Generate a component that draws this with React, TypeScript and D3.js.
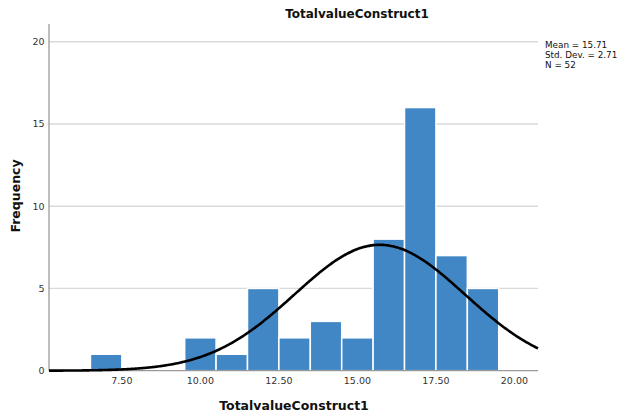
import React from "react";
import * as d3 from "d3";

const binCenters = [7, 8, 9, 10, 11, 12, 13, 14, 15, 16, 17, 18, 19];
const frequencies = [1, 0, 0, 2, 1, 5, 2, 3, 2, 8, 16, 7, 5];
const yTicks = [0, 5, 10, 15, 20];
const xTicks = [7.5, 10, 12.5, 15, 17.5, 20];
const statLines = ["Mean = 15.71", "Std. Dev. = 2.71", "N = 52"];
const mean = 15.71;
const sd = 2.71;
const n = 52;
const binWidth = 1;

const W = 619;
const H = 413;
const left = 49;
const right = 538;
const top = 24;
const bottom = 370.7;

export default function App() {
  const x = d3.scaleLinear().domain([5.18, 20.75]).range([left, right]);
  const y = d3.scaleLinear().domain([0, 21.08]).range([bottom, top]);
  const pdf = (v: number) =>
    (n * binWidth) / (sd * Math.sqrt(2 * Math.PI)) * Math.exp(-0.5 * ((v - mean) / sd) ** 2);
  const curvePts = d3.range(0, 301).map((i) => {
    const v = 5.18 + (i / 300) * (20.75 - 5.18);
    return [v, pdf(v)] as [number, number];
  });
  const line = d3
    .line<[number, number]>()
    .x((d) => x(d[0]))
    .y((d) => y(d[1]))
    .curve(d3.curveBasis);
  const font = "'DejaVu Sans', Verdana, sans-serif";
  return (
    <svg width={W} height={H} style={{ position: "absolute", left: 0, top: 0 }}>
      <rect width={W} height={H} fill="#fff" />
      <text x={357} y={18} textAnchor="middle" fontFamily={font} fontWeight="bold" fontSize={12} fill="#111">
        TotalvalueConstruct1
      </text>
      {yTicks
        .filter((t) => t > 0)
        .map((t) => (
          <line key={t} x1={left} x2={right} y1={y(t)} y2={y(t)} stroke="#d9d9d9" strokeWidth={1.3} />
        ))}
      {binCenters.map((c, i) =>
        frequencies[i] > 0 ? (
          <rect
            key={c}
            x={x(c - binWidth / 2)}
            y={y(frequencies[i])}
            width={x(c + binWidth / 2) - x(c - binWidth / 2)}
            height={y(0) - y(frequencies[i])}
            fill="#4287c5"
            stroke="#ffffff"
            strokeWidth={1.5}
          />
        ) : null
      )}
      <line x1={left} x2={left} y1={top} y2={bottom} stroke="#9a9a9a" strokeWidth={1.3} />
      <line x1={left} x2={right} y1={bottom} y2={bottom} stroke="#9a9a9a" strokeWidth={1.3} />
      <path d={line(curvePts) || ""} fill="none" stroke="#000" strokeWidth={2.6} />
      {yTicks.map((t) => (
        <text key={t} x={44.5} y={y(t) + 3.5} textAnchor="end" fontFamily={font} fontSize={9.5} fill="#333">
          {t}
        </text>
      ))}
      {xTicks.map((t) => (
        <text key={t} x={x(t)} y={384} textAnchor="middle" fontFamily={font} fontSize={9.5} fill="#333">
          {t.toFixed(2)}
        </text>
      ))}
      <text x={294} y={410} textAnchor="middle" fontFamily={font} fontWeight="bold" fontSize={12.5} fill="#111">
        TotalvalueConstruct1
      </text>
      <text
        transform={`translate(20,196) rotate(-90)`}
        textAnchor="middle"
        fontFamily={font}
        fontWeight="bold"
        fontSize={12.5}
        fill="#111"
      >
        Frequency
      </text>
      {statLines.map((s, i) => (
        <text key={s} x={545} y={48 + i * 10.2} fontFamily={font} fontSize={8.8} fill="#111">
          {s}
        </text>
      ))}
    </svg>
  );
}
